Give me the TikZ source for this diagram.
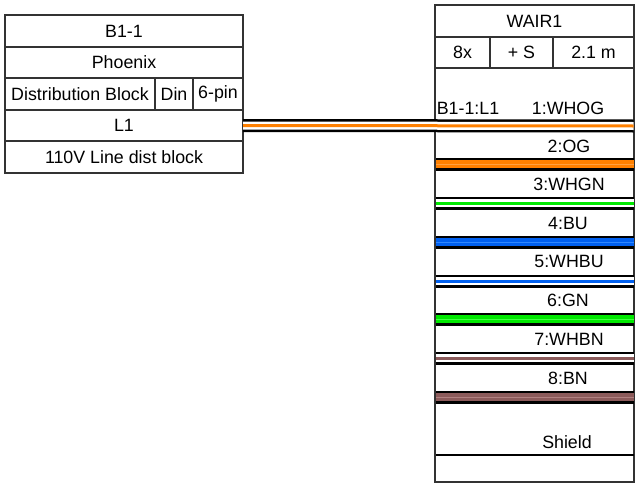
\documentclass[tikz,border=0pt]{standalone}
\usepackage{fontspec}
\setmainfont{Liberation Sans}
\usetikzlibrary{positioning}
\definecolor{wireOG}{HTML}{FF8000}
\definecolor{wireOGl}{HTML}{FFA040}
\definecolor{wireGN}{HTML}{00E800}
\definecolor{wireGNl}{HTML}{40FF40}
\definecolor{wireBU}{HTML}{0060F0}
\definecolor{wireBUl}{HTML}{3088FF}
\definecolor{wireBN}{HTML}{8B5A5A}
\definecolor{wireBNl}{HTML}{B08080}
\tikzstyle{block} = [draw=black!80, rectangle, line width=1.4pt, outer sep=0pt,
    inner sep=0pt, font=\fontsize{17.8}{20}\selectfont, anchor=north west]
\tikzstyle{lbl} = [inner sep=0pt, font=\fontsize{17.8}{20}\selectfont]
\begin{document}
\begin{tikzpicture}[x=1pt, y=-1pt]
        \useasboundingbox (0,0) rectangle (639,487);

        % connector table
        \node[block, minimum width=238pt, minimum height=32pt] at (5,15) (b1){B1-1};
        \node[block, minimum width=238pt, minimum height=31pt, below=0pt of b1] (phoenix){Phoenix};
        \node[block, minimum width=150pt, minimum height=32pt] at (5,78) (distblock){Distribution Block};
        \node[block, minimum width=38pt, minimum height=32pt, right=0pt of distblock] (din){Din};
        \node[block, minimum width=50pt, minimum height=32pt, right=0pt of din] (pins){6-pin};
        \node[block, minimum width=238pt, minimum height=31pt] at (5,110) (l1){L1};
        \node[block, minimum width=238pt, minimum height=32pt, below=0pt of l1] (linedist){110V Line dist block};

        % cable table
        \node[block, minimum width=199pt, minimum height=32pt] at (435,5) (wair){WAIR1};
        \node[block, minimum width=55pt, minimum height=31pt] at (435,37) (count){8x};
        \node[block, minimum width=63pt, minimum height=31pt, right=0pt of count] (shld){+ S};
        \node[block, minimum width=81pt, minimum height=31pt, right=0pt of shld] (len){2.1 m};
        \node[block, minimum width=199pt, minimum height=414pt] at (435,68) (body){};

        \node[lbl] at (468,108) (from){B1-1:L1};
        \foreach \name/\ypos/\xpos/\txt in {
            w1/108/568/1:WHOG, w2/146/569/2:OG, w3/184/569/3:WHGN, w4/223/568/4:BU,
            w5/261/569/5:WHBU, w6/300/568/6:GN, w7/339/569/7:WHBN, w8/378/568/8:BN,
            shield/442/567/Shield}
            \node[lbl] at (\xpos,\ypos) (\name){\txt};

        % wires
        \coordinate (end1) at (633.5,126);
        \foreach \n/\ypos in {2/164, 3/203, 4/242, 5/281, 6/319, 7/358, 8/397} {
            \coordinate (start\n) at (436,\ypos);
            \coordinate (end\n) at (633.5,\ypos);
        }
        \coordinate (start1) at (l1.east);
        \coordinate (shieldl) at (436,455);
        \coordinate (shieldr) at (633.5,455);

        \foreach \n/\fillc/\corec/\corew in {
            1/white/wireOG/3, 2/wireOG/wireOGl/1, 3/white/wireGN/3, 4/wireBU/wireBUl/1,
            5/white/wireBU/3, 6/wireGN/wireGNl/1, 7/white/wireBN/3, 8/wireBN/wireBNl/1} {
            \draw[line width=13pt, black] (start\n) -- (end\n);
            \draw[line width=8pt, \fillc] (start\n) -- (end\n);
            \draw[line width=\corew pt, \corec] (start\n) -- (end\n);
        }
        \draw[line width=2pt, black] (shieldl) -- (shieldr);
    \end{tikzpicture}
\end{document}
